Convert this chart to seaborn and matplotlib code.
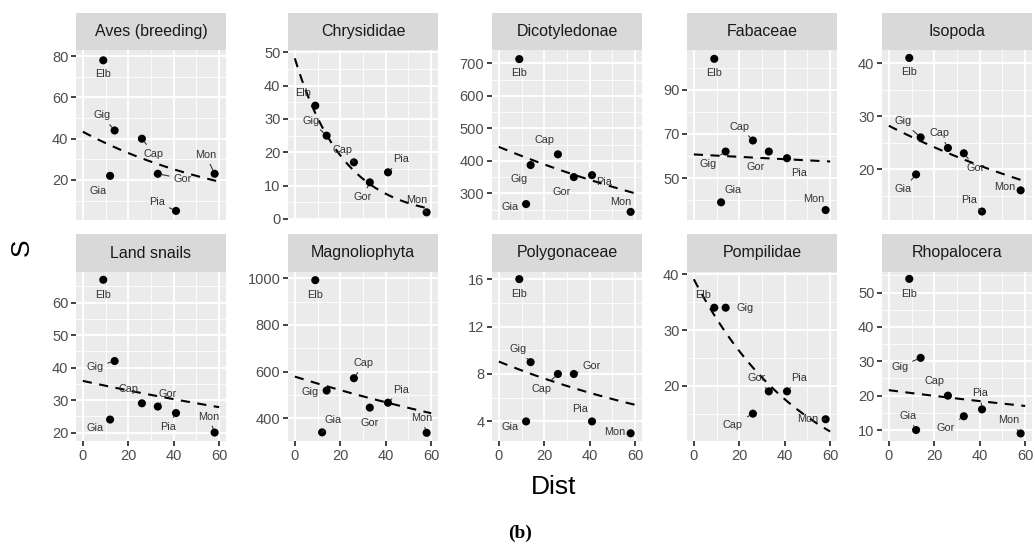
import numpy as np
import pandas as pd
import matplotlib
matplotlib.use("Agg")
import matplotlib.pyplot as plt
from matplotlib.patches import Rectangle
from matplotlib.ticker import AutoMinorLocator, FixedLocator
import seaborn as sns

# ---------------- data ----------------
islands = ["Elb", "Gig", "Gia", "Cap", "Gor", "Pia", "Mon"]
dist = [9, 14, 12, 26, 33, 41, 58]

taxa = ["Aves (breeding)", "Chrysididae", "Dicotyledonae", "Fabaceae", "Isopoda",
        "Land snails", "Magnoliophyta", "Polygonaceae", "Pompilidae", "Rhopalocera"]

aves = [78, 44, 22, 40, 23, 5, 23]
chrysididae = [34, 25, np.nan, 17, 11, 14, 2]
dicotyledonae = [713, 387, 267, 420, 350, 356, 243]
fabaceae = [104, 62, 39, 67, 62, 59, 35.5]
isopoda = [41, 26, 19, 24, 23, 12, 16]
land_snails = [67, 42, 24, 29, 28, 26, 20]
magnoliophyta = [992, 519, 340, 572, 446, 467, 338]
polygonaceae = [16, 9, 4, 8, 8, 4, 3]
pompilidae = [34, 34, np.nan, 15, 19, 19, 14]
rhopalocera = [54, 31, 10, 20, 14, 16, 9]

# fitted (dashed) curve: value at Dist = 0 and at Dist = 60
fit_start = [43.4, 48.2, 443, 60.7, 28.2, 35.9, 579, 9.05, 39.1, 21.6]
fit_end = [19.2, 3.0, 300, 57.5, 17.7, 27.8, 422, 5.4, 11.8, 17.0]

y_ticks = [[20, 40, 60, 80], [0, 10, 20, 30, 40, 50], [300, 400, 500, 600, 700],
           [50, 70, 90], [20, 30, 40], [20, 30, 40, 50, 60], [400, 600, 800, 1000],
           [4, 8, 12, 16], [20, 30, 40], [10, 20, 30, 40, 50]]
x_ticks = [0, 20, 40, 60]

series = [aves, chrysididae, dicotyledonae, fabaceae, isopoda,
          land_snails, magnoliophyta, polygonaceae, pompilidae, rhopalocera]

# ---------------- layout / style (not data) ----------------
y_limits = [(0.6, 83), (-0.3, 50.7), (218, 741), (31, 108), (10.4, 42.5),
            (17.4, 69.4), (303, 1027), (2.35, 16.6), (10.1, 40.4), (6.8, 56)]

# label offsets in pixels (dx right, dy down) and whether a segment is drawn
label_offsets = [
    {"Elb": (0, 14, 0), "Gig": (-13, -15, 1), "Gia": (-12, 15, 0), "Cap": (12, 15, 1),
     "Gor": (25, 5, 1), "Pia": (-19, -9, 1), "Mon": (-9, -19, 1)},
    {"Elb": (-12, -13, 0), "Gig": (-16, -15, 1), "Cap": (-11, -12, 1),
     "Gor": (-7, 15, 1), "Pia": (13, -13, 1), "Mon": (-10, -12, 1)},
    {"Elb": (0, 14, 0), "Gig": (-12, 14, 0), "Gia": (-16, 3, 0), "Cap": (-13, -14, 0),
     "Gor": (-12, 15, 0), "Pia": (12, 7, 1), "Mon": (-10, -10, 1)},
    {"Elb": (0, 14, 0), "Gig": (-18, 12, 1), "Gia": (12, -12, 0), "Cap": (-13, -14, 1),
     "Gor": (-13, 15, 0), "Pia": (12, 15, 0), "Mon": (-12, -11, 0)},
    {"Elb": (0, 14, 0), "Gig": (-18, -16, 1), "Gia": (-13, 15, 1), "Cap": (-8, -15, 1),
     "Gor": (12, 15, 1), "Pia": (-13, -12, 1), "Mon": (-16, -3, 0)},
    {"Elb": (0, 15, 0), "Gig": (-20, 6, 1), "Gia": (-15, 8, 0), "Cap": (-13, -14, 0),
     "Gor": (10, -13, 1), "Pia": (-8, 14, 1), "Mon": (-6, -16, 1)},
    {"Elb": (0, 15, 0), "Gig": (-17, 1, 0), "Gia": (11, -12, 1), "Cap": (10, -15, 1),
     "Gor": (0, 15, 0), "Pia": (13, -13, 1), "Mon": (-5, -15, 1)},
    {"Elb": (0, 15, 0), "Gig": (-13, -13, 1), "Gia": (-16, 6, 0), "Cap": (-16, 15, 1),
     "Gor": (18, -8, 1), "Pia": (-12, -12, 0), "Mon": (-16, -1, 0)},
    {"Elb": (-11, -13, 0), "Gig": (19, 0, 0), "Cap": (-20, 11, 1),
     "Gor": (-12, -13, 1), "Pia": (12, -13, 1), "Mon": (-18, 0, 1)},
    {"Elb": (0, 15, 0), "Gig": (-21, 9, 1), "Gia": (-8, -14, 1), "Cap": (-13, -15, 0),
     "Gor": (-18, 12, 1), "Pia": (-2, -16, 1), "Mon": (-12, -13, 1)},
]

W, H = 1035, 549
col_left = [76, 288, 492, 687, 882]
panel_w = 150
rows = [(50, 220, 13), (272, 441, 234)]  # panel top, panel bottom, strip top

# ---------------- build data frames ----------------
records = []
for t, vals in zip(taxa, series):
    for isl, d, v in zip(islands, dist, vals):
        records.append({"taxon": t, "island": isl, "Dist": d, "S": v})
df = pd.DataFrame(records).dropna()

fit_x = np.linspace(0, 60, 61)
fit_rec = []
for t, a0, a1 in zip(taxa, fit_start, fit_end):
    b = np.log(a1 / a0) / 60.0
    for xv in fit_x:
        fit_rec.append({"taxon": t, "Dist": xv, "S": a0 * np.exp(b * xv)})
fit_df = pd.DataFrame(fit_rec)

# ---------------- plotting ----------------
sns.set_theme(style="ticks", rc={
    "axes.facecolor": "#EBEBEB",
    "xtick.major.size": 3.5, "ytick.major.size": 3.5,
    "xtick.major.width": 1.3, "ytick.major.width": 1.3,
    "xtick.color": "#333333", "ytick.color": "#333333",
    "xtick.labelcolor": "#4D4D4D", "ytick.labelcolor": "#4D4D4D",
    "xtick.direction": "out", "ytick.direction": "out",
})
plt.rcParams["font.family"] = ["Liberation Sans", "DejaVu Sans"]

g = sns.FacetGrid(df, col="taxon", col_wrap=5, col_order=taxa, sharex=True,
                  sharey=False, height=2, aspect=1, despine=False)
fig = g.figure
fig.set_size_inches(W / 100, H / 100)
fig.set_dpi(100)
fig.patch.set_facecolor("white")

for i, (ax, t) in enumerate(zip(g.axes.flat, taxa)):
    r, c = divmod(i, 5)
    top, bot, stop = rows[r]
    ax.set_position([col_left[c] / W, 1 - bot / H, panel_w / W, (bot - top) / H])
    ax.set_facecolor("#EBEBEB")
    for s in ax.spines.values():
        s.set_visible(False)

    sub_fit = fit_df[fit_df.taxon == t]
    sns.lineplot(data=sub_fit, x="Dist", y="S", ax=ax, color="black", lw=1.5,
                 zorder=3)
    ax.lines[-1].set_dashes([4.4, 3.6])

    sub = df[df.taxon == t]
    sns.scatterplot(data=sub, x="Dist", y="S", ax=ax, color="black", s=34,
                    edgecolor="none", zorder=4)

    offs = label_offsets[i]
    for _, row in sub.iterrows():
        dx, dy, seg = offs[row.island]
        kw = {}
        if seg:
            kw["arrowprops"] = dict(arrowstyle="-", color="#333333", lw=0.8,
                                    shrinkA=1, shrinkB=3)
        ax.annotate(row.island, xy=(row.Dist, row.S), xytext=(dx, -dy),
                    textcoords="offset pixels", ha="center", va="center",
                    fontsize=7.8, color="#333333", zorder=5, **kw)

    ax.set_xlim(-3, 63)
    ax.set_ylim(*y_limits[i])
    ax.xaxis.set_major_locator(FixedLocator(x_ticks))
    ax.yaxis.set_major_locator(FixedLocator(y_ticks[i]))
    ax.xaxis.set_minor_locator(AutoMinorLocator(2))
    ax.yaxis.set_minor_locator(AutoMinorLocator(2))
    ax.grid(True, which="major", color="white", lw=1.3)
    ax.grid(True, which="minor", color="white", lw=0.6)
    ax.set_axisbelow(True)
    ax.tick_params(which="minor", length=0)
    ax.tick_params(axis="y", which="major", left=True, length=3.5, width=1.3,
                   color="#333333", labelsize=10.5, labelcolor="#4D4D4D", pad=2)
    ax.tick_params(axis="x", which="major", length=3.5, width=1.3,
                   color="#333333", labelsize=10.5, labelcolor="#4D4D4D", pad=2,
                   bottom=(r == 1), labelbottom=(r == 1))
    ax.set_xlabel("")
    ax.set_ylabel("")
    ax.set_title("")

    # strip
    fig.patches.append(Rectangle((col_left[c] / W, 1 - top / H), panel_w / W,
                                 (top - stop) / H, transform=fig.transFigure,
                                 facecolor="#D9D9D9", edgecolor="none", zorder=0))
    fig.text((col_left[c] + panel_w / 2) / W, 1 - (stop + top) / 2 / H, t,
             ha="center", va="center", fontsize=11.5, color="#1A1A1A")

fig.text(554 / W, 1 - 487 / H, "Dist", ha="center", va="center", fontsize=19,
         color="black")
fig.text(22 / W, 1 - 247 / H, "S", ha="center", va="center", fontsize=19,
         rotation=90, color="black")
fig.text(520 / W, 1 - 533 / H, "(b)", ha="center", va="center", fontsize=14,
         fontweight="bold", family=["Liberation Serif", "DejaVu Serif"],
         color="black")

fig.savefig("out.png", dpi=100, facecolor="white")
